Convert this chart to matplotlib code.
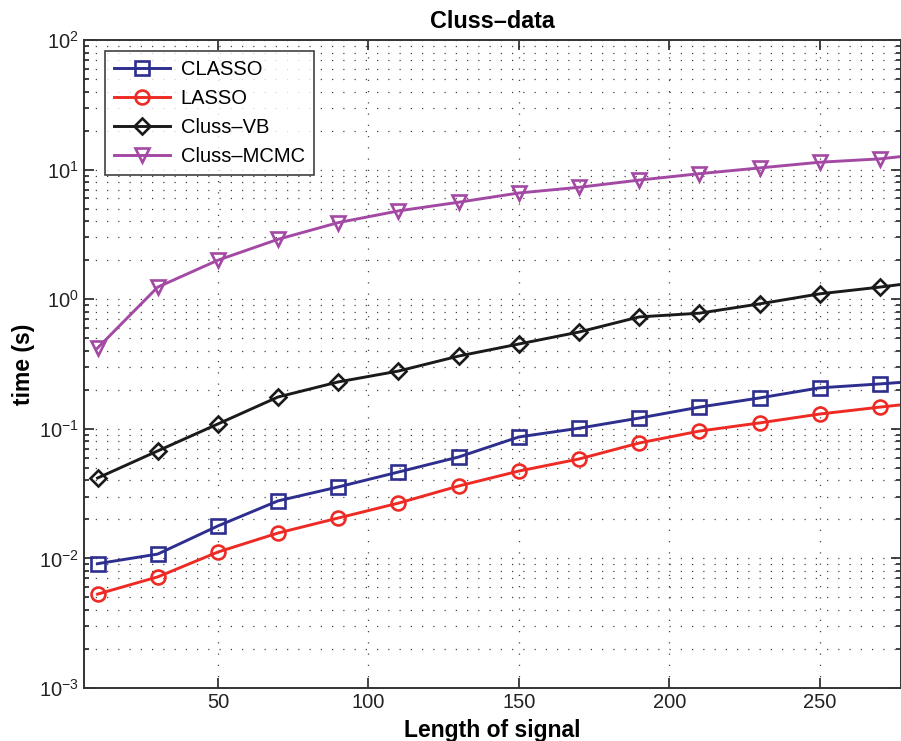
import matplotlib
matplotlib.use("Agg")
import matplotlib.pyplot as plt
from matplotlib.ticker import LogLocator, NullFormatter, FixedLocator

plt.rcParams['font.family'] = ['Liberation Sans', 'DejaVu Sans']
plt.rcParams['mathtext.fontset'] = 'custom'
plt.rcParams['mathtext.rm'] = 'Liberation Sans'
plt.rcParams['mathtext.it'] = 'Liberation Sans:italic'
plt.rcParams['mathtext.bf'] = 'Liberation Sans:bold'

x = [10, 30, 50, 70, 90, 110, 130, 150, 170, 190, 210, 230, 250, 270, 290]
classo = [0.0091, 0.0108, 0.0178, 0.0278, 0.0356, 0.0464, 0.0606, 0.0865, 0.101, 0.121,
          0.147, 0.173, 0.207, 0.222, 0.24]
lasso = [0.0053, 0.0072, 0.0112, 0.0157, 0.0205, 0.0267, 0.0362, 0.0472, 0.0585, 0.0777,
         0.096, 0.111, 0.130, 0.147, 0.165]
cluss_vb = [0.0417, 0.0675, 0.109, 0.176, 0.23, 0.279, 0.364, 0.451, 0.558, 0.73,
            0.78, 0.92, 1.10, 1.24, 1.42]
cluss_mcmc = [0.42, 1.24, 2.0, 2.9, 3.9, 4.8, 5.6, 6.6, 7.3, 8.3,
              9.3, 10.3, 11.4, 12.1, 13.6]

series = [
    ("CLASSO", classo, '#2e2e8f', 's'),
    ("LASSO", lasso, '#ee2a24', 'o'),
    ("Cluss\u2013VB", cluss_vb, '#1a1a1a', 'D'),
    ("Cluss\u2013MCMC", cluss_mcmc, '#a349a4', 'v'),
]

fig = plt.figure(figsize=(9.01, 7.41), dpi=100)
ax = fig.add_axes([84 / 901, 53 / 741, 1 - 84 / 901, 648 / 741])

for name, vals, color, mk in series:
    ms = 10 if mk != 'D' else 8
    if mk == 'v':
        ms = 10.5
    ax.plot(x, vals, color=color, lw=2.1, marker=mk, ms=ms, mfc='none',
            mec=color, mew=1.9, label=name, clip_on=True)

ax.set_yscale('log')
ax.set_ylim(1e-3, 1e2)
ax.set_xlim(5.5, 277)
ax.xaxis.set_major_locator(FixedLocator([50, 100, 150, 200, 250]))
ax.yaxis.set_major_locator(LogLocator(base=10, numticks=10))
ax.yaxis.set_minor_locator(LogLocator(base=10, subs=range(2, 10), numticks=20))
ax.yaxis.set_minor_formatter(NullFormatter())

ax.grid(True, which='major', axis='both', linestyle=(0, (1, 8)), color='#444444', lw=0.9)
ax.grid(True, which='minor', axis='y', linestyle=(0, (1, 8)), color='#444444', lw=0.9)

ax.tick_params(which='both', direction='in', top=True, right=True, labelsize=14.5,
               colors='#222222', width=1.2)
ax.tick_params(which='major', length=7)
ax.tick_params(which='minor', length=3.5)
for s in ax.spines.values():
    s.set_linewidth(1.4)
    s.set_color('#333333')

ax.set_title("Cluss\u2013data", fontsize=16.8, fontweight='bold', pad=9)
ax.set_xlabel("Length of signal", fontsize=16.5, fontweight='bold', labelpad=5)
ax.set_ylabel("time (s)", fontsize=16.5, fontweight='bold', labelpad=3)

leg = ax.legend(loc='upper left', bbox_to_anchor=(21 / 817, 637 / 648), fontsize=14.5,
                frameon=True, fancybox=False, edgecolor='#111111', handlelength=2.8,
                borderpad=0.45, labelspacing=0.5, handletextpad=0.5, borderaxespad=0)
leg.get_frame().set_linewidth(1.2)

fig.savefig("out.png", dpi=100)
